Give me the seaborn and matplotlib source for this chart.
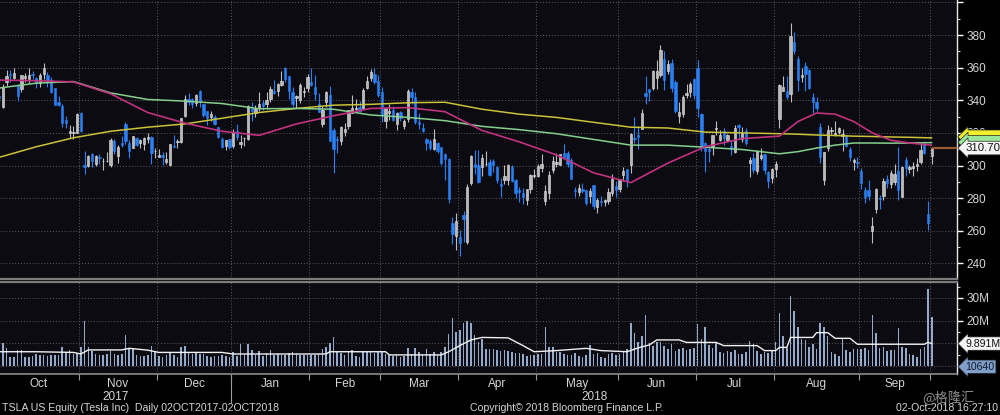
import numpy as np
import pandas as pd
import matplotlib
matplotlib.use("Agg")
import matplotlib.pyplot as plt
import matplotlib.ticker as mticker
import matplotlib.transforms as mtrans
import seaborn as sns

# ---------------- data ----------------
holidays = ["2017-11-23", "2017-12-25", "2018-01-01", "2018-01-15", "2018-02-19",
            "2018-03-30", "2018-05-28", "2018-07-04", "2018-09-03"]

opens = [
    342.5, 335.9, 351.3, 356.0, 353.8, 348.7, 346.8, 353.9, 352.9, 356.0, 353.8, 350.9, 355.9, 355.6, 352.7, 347.3, 338.8, 336.7, 327.8, 319.8, 320.0, 320.2,
    332.3, 300.1, 299.5, 307.0, 301.0, 305.5, 302.5, 302.5, 300.1, 315.0, 306.0, 314.0, 325.7, 313.8, 310.9, 316.8, 313.8, 313.3, 316.4, 317.3, 308.6,
    305.4, 306.5, 302.0, 300.1, 312.0, 314.6, 314.6, 330.5, 340.9, 341.0, 338.3, 345.5, 337.9, 333.3, 329.6, 329.5, 323.8, 316.0, 311.8, 316.2,
    312.0, 321.0, 312.9, 316.6, 316.0, 335.2, 332.2, 335.2, 338.6, 337.9, 340.5, 345.7, 345.6, 349.4, 360.0, 354.6, 345.0, 341.5, 339.9, 345.1, 347.5,
    351.0, 348.4, 338.0, 325.2, 339.0, 343.3, 322.0, 316.1, 315.0, 320.8, 324.5, 332.5, 334.5, 336.0, 335.5, 347.8, 353.5, 356.3, 352.0,
    345.0, 327.0, 332.4, 333.8, 325.4, 332.9, 324.1, 328.6, 344.9, 342.1, 326.4, 322.8, 316.5, 314.9, 310.3, 313.9, 311.3, 307.3, 304.0, 264.6, 256.5,
    256.3, 269.8, 252.8, 289.3, 301.0, 300.4, 299.0, 300.7, 302.3, 303.0, 299.0, 288.9, 291.1, 291.1, 299.0, 291.3, 285.0, 283.0, 278.8, 285.4, 293.6,
    293.5, 298.6, 278.0, 283.0, 297.5, 300.8, 300.4, 307.5, 307.7, 303.3, 285.0, 283.8, 285.9, 284.7, 281.3, 287.8, 274.7, 278.4, 277.6, 278.5, 283.3, 287.2,
    285.9, 294.3, 297.7, 300.5, 316.2, 319.0, 322.5, 344.7, 346.7, 347.8, 353.8, 355.4, 365.2, 358.0, 362.8, 351.3, 330.2, 331.5, 343.0, 345.0, 353.0,
    360.1, 331.8, 313.8, 310.2, 311.3, 322.5, 315.9, 321.4, 315.6, 311.7, 308.0, 325.0, 316.3, 321.0, 301.8, 304.4, 296.7, 304.9, 307.0, 295.9, 292.2,
    298.0, 328.4, 345.5, 345.5, 343.8, 375.9, 365.6, 354.0, 361.1, 358.5, 341.9, 339.1, 323.8, 291.0, 310.6, 320.9, 319.1, 320.7, 318.0, 318.4, 310.3, 302.3, 302.0,
    296.9, 285.1, 284.8, 260.1, 273.3, 279.5, 281.4, 291.5, 288.7, 290.0, 296.7, 280.5, 303.6, 297.7, 298.5, 300.0, 301.9, 312.9, 270.3, 305.8,
]
highs = [
    348.7, 349.8, 358.6, 358.4, 360.0, 349.7, 355.6, 357.0, 359.8, 358.0, 354.5, 357.0, 363.0, 357.1, 354.5, 347.5, 342.8, 337.5, 330.2, 324.6, 324.0, 331.9,
    332.6, 308.7, 306.3, 307.5, 306.5, 306.9, 304.5, 308.4, 316.8, 316.4, 312.5, 318.1, 326.7, 315.5, 318.2, 317.4, 316.4, 317.3, 320.0, 318.0, 310.7,
    310.3, 308.3, 308.0, 313.4, 318.6, 316.0, 329.0, 343.0, 344.2, 341.7, 343.8, 346.2, 338.0, 333.3, 333.7, 330.9, 323.9, 317.7, 315.8, 316.4,
    322.1, 325.3, 318.6, 317.2, 337.0, 338.8, 337.0, 344.8, 340.0, 345.0, 349.0, 352.3, 350.6, 357.8, 360.5, 355.0, 348.0, 343.0, 350.8, 348.3, 356.2,
    359.7, 355.2, 344.5, 336.2, 346.0, 348.6, 323.0, 318.1, 324.2, 326.2, 334.1, 343.1, 340.8, 339.7, 347.4, 355.0, 359.0, 360.0, 355.2,
    348.0, 335.2, 337.8, 336.4, 333.0, 333.7, 328.5, 347.2, 347.7, 345.2, 332.3, 325.8, 316.9, 316.3, 322.4, 314.4, 311.6, 307.6, 304.3, 268.6, 271.0,
    260.3, 271.9, 288.4, 306.3, 309.3, 309.5, 307.1, 309.0, 304.0, 304.0, 299.7, 292.2, 300.2, 301.0, 300.2, 291.5, 287.0, 286.0, 285.0, 294.5, 298.0,
    300.8, 306.9, 288.0, 296.9, 306.0, 307.8, 307.0, 313.0, 308.9, 304.9, 287.0, 288.8, 289.0, 285.0, 286.0, 288.0, 279.8, 281.1, 279.6, 286.5, 295.0, 290.4,
    292.0, 299.0, 297.8, 320.0, 330.0, 324.5, 334.7, 355.0, 347.2, 358.8, 364.7, 373.7, 370.0, 364.4, 365.2, 352.3, 338.7, 343.0, 349.8, 351.5, 353.5,
    364.8, 332.0, 314.4, 312.0, 318.5, 327.0, 321.9, 323.2, 319.6, 315.2, 324.7, 325.5, 323.5, 323.2, 305.5, 307.7, 309.6, 310.7, 307.2, 296.4, 298.3,
    303.0, 350.0, 355.0, 355.0, 387.5, 382.0, 367.0, 360.0, 363.2, 359.2, 344.5, 342.3, 326.0, 308.5, 324.8, 323.8, 327.3, 323.9, 322.4, 318.9, 311.5, 304.6, 305.3,
    298.2, 286.8, 291.2, 268.4, 286.0, 282.0, 292.5, 294.0, 297.3, 300.9, 311.4, 300.0, 305.0, 300.6, 302.0, 304.6, 313.9, 315.0, 278.0, 311.4,
]
lows = [
    338.0, 335.0, 349.0, 351.5, 353.0, 339.5, 345.0, 351.3, 350.9, 353.0, 347.5, 348.0, 353.3, 348.2, 344.3, 337.0, 336.2, 323.6, 323.2, 316.7, 316.0, 320.0,
    320.3, 294.8, 299.0, 299.0, 300.0, 301.0, 297.0, 301.9, 299.1, 306.9, 301.5, 311.3, 313.2, 304.8, 310.7, 311.8, 311.0, 309.5, 313.9, 301.2, 304.5,
    305.0, 300.6, 301.0, 300.0, 311.1, 311.0, 313.8, 330.0, 336.9, 335.0, 336.3, 335.6, 330.0, 325.0, 327.0, 324.8, 316.6, 310.8, 309.5, 310.0,
    311.0, 315.6, 310.8, 312.0, 315.5, 327.4, 330.0, 333.3, 334.0, 334.8, 339.0, 343.7, 342.6, 349.0, 351.0, 341.0, 335.7, 335.0, 338.3, 342.2, 345.2,
    348.6, 340.1, 333.0, 323.5, 335.7, 315.0, 295.7, 307.7, 312.5, 318.0, 322.6, 332.2, 333.0, 333.0, 334.8, 347.1, 352.0, 350.0, 342.2,
    326.7, 323.0, 327.9, 327.6, 321.7, 327.3, 322.4, 326.5, 338.0, 325.3, 322.1, 320.5, 309.6, 309.4, 309.4, 307.5, 300.5, 291.4, 277.2, 252.1, 248.2,
    244.6, 253.0, 252.0, 288.2, 295.0, 289.2, 293.7, 300.0, 293.7, 296.0, 289.0, 280.5, 288.5, 288.2, 289.8, 279.8, 277.4, 276.5, 276.0, 283.3, 292.2,
    293.1, 296.0, 275.6, 279.5, 295.2, 299.0, 300.1, 304.1, 299.1, 291.6, 280.5, 281.6, 283.1, 275.6, 276.9, 273.4, 271.0, 274.9, 275.4, 276.2, 281.6, 280.8,
    283.8, 290.6, 286.7, 295.7, 313.6, 310.2, 322.2, 338.0, 339.8, 346.6, 346.7, 354.5, 346.3, 356.3, 345.3, 332.0, 326.2, 330.0, 341.2, 342.0, 340.5,
    329.9, 309.0, 296.2, 302.0, 306.5, 318.5, 315.0, 312.5, 314.3, 306.3, 307.8, 316.3, 314.3, 312.5, 292.9, 295.7, 295.0, 303.5, 295.0, 286.0, 289.1,
    293.0, 323.2, 345.4, 341.0, 339.2, 368.5, 345.7, 351.2, 346.0, 347.1, 332.5, 333.5, 301.3, 288.2, 309.0, 319.4, 318.1, 319.4, 308.8, 311.3, 302.6, 297.0, 298.6,
    285.3, 277.2, 278.9, 252.3, 271.0, 273.6, 278.6, 286.2, 286.5, 288.1, 279.0, 280.5, 293.6, 295.4, 293.6, 296.5, 301.1, 306.9, 260.6, 301.1,
]
closes = [
    341.5, 348.1, 355.0, 355.3, 356.9, 342.9, 355.6, 354.6, 355.7, 355.6, 350.6, 355.8, 359.7, 351.8, 345.1, 337.0, 337.3, 325.8, 326.2, 320.9, 320.1, 331.5,
    321.1, 299.3, 306.1, 302.8, 306.1, 304.4, 303.0, 303.0, 315.4, 308.7, 311.3, 312.5, 315.1, 308.7, 317.8, 312.6, 315.6, 316.8, 317.6, 307.5, 308.9,
    306.5, 305.2, 303.7, 313.3, 311.2, 315.1, 328.9, 341.0, 339.0, 337.9, 343.5, 338.9, 331.1, 329.0, 331.7, 325.2, 317.3, 311.6, 315.4, 311.4,
    320.5, 317.3, 314.6, 316.6, 336.4, 333.7, 334.8, 338.0, 336.2, 340.1, 347.2, 344.6, 350.0, 351.6, 352.8, 345.9, 337.6, 342.9, 349.5, 345.8, 354.3,
    349.3, 343.8, 333.1, 334.0, 345.0, 315.2, 310.4, 315.7, 323.7, 322.3, 334.1, 335.5, 334.8, 333.3, 346.2, 352.1, 357.4, 351.0, 343.1,
    330.9, 335.1, 333.4, 328.2, 332.3, 329.1, 327.2, 345.5, 341.8, 326.6, 325.6, 321.4, 313.6, 310.6, 316.5, 309.1, 301.5, 304.2, 279.2, 257.8, 266.1,
    252.5, 267.5, 286.9, 305.7, 299.3, 289.7, 304.7, 300.9, 294.1, 300.3, 291.2, 287.7, 293.4, 300.1, 290.2, 283.4, 283.5, 280.7, 285.5, 294.1, 293.9,
    299.9, 301.2, 284.5, 294.1, 302.8, 302.0, 306.9, 305.0, 301.1, 292.0, 284.2, 286.5, 284.5, 276.8, 284.5, 275.0, 279.1, 277.9, 278.9, 283.8, 291.7, 284.7,
    291.8, 296.7, 291.1, 319.5, 316.1, 317.7, 332.1, 342.8, 344.8, 357.7, 358.2, 370.8, 352.6, 362.2, 347.5, 333.6, 333.0, 342.0, 344.5, 349.9, 343.0,
    335.1, 310.9, 309.2, 308.9, 318.5, 322.5, 319.0, 316.7, 318.9, 310.1, 322.7, 323.9, 320.2, 313.6, 303.2, 297.4, 308.7, 306.7, 297.2, 290.2, 298.1,
    300.8, 349.5, 348.2, 342.0, 379.6, 370.3, 352.5, 355.5, 356.4, 347.6, 338.7, 335.5, 305.5, 308.4, 321.9, 321.6, 320.1, 322.8, 319.3, 311.9, 305.0, 303.2, 301.7,
    289.0, 280.7, 281.0, 263.2, 285.5, 279.4, 290.5, 289.5, 295.2, 294.8, 285.0, 299.0, 298.3, 299.1, 299.7, 301.0, 309.6, 307.5, 264.8, 310.7,
]
volumes_m = [
    7.5, 10.0, 7.8, 4.1, 4.1, 7.0, 7.0, 3.8, 3.8, 4.5, 5.3, 4.9, 4.9, 4.5, 4.9, 4.7, 4.9, 8.5, 6.3, 7.0, 5.3, 5.8,
    8.5, 20.0, 8.5, 6.5, 5.5, 5.0, 4.8, 5.2, 6.6, 5.5, 5.0, 5.5, 13.5, 7.8, 7.8, 4.8, 4.5, 4.3, 4.9, 8.8, 6.5,
    4.5, 4.2, 4.8, 5.6, 4.9, 4.0, 8.5, 8.8, 6.0, 5.5, 6.3, 5.4, 5.5, 4.6, 4.0, 4.3, 4.5, 5.0, 4.3, 3.8,
    6.1, 4.6, 9.7, 4.9, 9.7, 7.0, 5.0, 6.5, 4.5, 5.7, 6.9, 4.9, 5.5, 5.0, 5.0, 5.9, 6.3, 5.2, 4.9, 4.8, 4.9,
    5.0, 4.8, 5.3, 7.6, 8.5, 10.3, 12.6, 6.4, 5.6, 4.9, 6.7, 7.0, 4.4, 3.8, 6.2, 6.0, 6.2, 5.6, 6.1,
    6.5, 5.3, 5.0, 4.5, 5.0, 3.8, 4.4, 7.8, 5.5, 7.8, 6.0, 5.4, 7.4, 5.5, 6.0, 5.0, 6.0, 8.5, 14.0, 21.0, 15.0,
    16.0, 19.0, 20.0, 19.0, 13.5, 10.7, 11.8, 7.5, 7.4, 7.6, 7.0, 6.8, 6.9, 6.5, 6.3, 5.8, 5.9, 5.2, 4.3, 5.0, 4.8,
    5.2, 5.5, 17.4, 8.5, 8.5, 6.3, 6.3, 5.3, 4.9, 4.9, 5.6, 4.5, 4.2, 4.9, 9.3, 5.3, 5.9, 4.0, 3.6, 5.5, 5.8, 4.8,
    5.5, 6.0, 7.3, 18.8, 14.4, 10.7, 13.2, 22.5, 10.0, 9.0, 10.5, 10.6, 8.7, 7.5, 9.5, 6.8, 7.5, 8.0, 7.0, 7.5, 8.0,
    18.5, 11.8, 17.4, 9.3, 8.0, 10.0, 6.0, 5.8, 6.6, 6.2, 7.0, 5.2, 5.5, 6.0, 11.0, 9.7, 6.5, 5.3, 6.0, 5.6, 6.8,
    10.7, 23.2, 13.2, 8.0, 30.9, 24.4, 17.4, 11.8, 11.5, 8.5, 9.5, 7.5, 18.8, 17.4, 13.2, 6.3, 5.5, 4.4, 12.2, 7.0, 6.0, 7.5, 7.7,
    7.5, 7.8, 7.0, 22.5, 14.4, 8.0, 8.5, 6.5, 7.0, 7.2, 16.6, 8.5, 7.8, 5.5, 4.7, 4.0, 7.4, 8.5, 33.8, 21.8,
]

ma_pos = [0, 10, 20, 30, 40, 50, 60, 70, 80, 90, 100, 110, 120, 130, 140, 150, 160, 170, 180, 190,
          200, 210, 215, 220, 225, 230, 235, 240, 245, 250, 251]
ma50 = [352.4, 352.0, 351.3, 344.0, 332.5, 326.0, 321.0, 318.5, 325.5, 330.5, 335.0, 335.5, 333.0, 321.5,
        314.5, 306.5, 295.5, 289.5, 301.5, 311.5, 316.5, 318.0, 327.0, 332.2, 331.5, 327.0, 320.0, 315.5,
        313.8, 312.7, 312.5]
ma100 = [347.5, 350.5, 351.5, 344.5, 340.5, 339.5, 338.0, 334.8, 335.0, 334.5, 331.0, 329.5, 327.5, 324.0,
         322.0, 319.5, 316.0, 312.5, 312.5, 311.2, 309.8, 307.2, 308.5, 310.7, 312.5, 313.8, 313.8, 313.7,
         313.8, 314.0, 314.0]
ma200 = [305.0, 311.5, 317.0, 321.0, 323.5, 325.5, 329.0, 332.5, 335.0, 337.0, 337.5, 338.5, 338.8, 334.5,
         331.5, 329.5, 326.5, 323.5, 323.0, 320.5, 320.0, 319.5, 319.2, 318.7, 318.4, 318.0, 317.8, 317.5,
         317.3, 317.0, 317.0]

vma_pos = [0, 10, 20, 22, 24, 33, 35, 40, 43, 60, 63, 88, 89, 104, 105, 119, 121, 124, 127, 130, 137, 141,
           144, 150, 158, 162, 169, 172, 175, 177, 183, 185, 193, 195, 204, 206, 209, 210, 212, 213, 219,
           220, 223, 225, 229, 231, 249, 250, 251]
vma = [6.3, 6.3, 6.0, 5.3, 7.1, 7.1, 7.8, 7.0, 6.0, 6.0, 5.3, 5.3, 6.3, 6.3, 4.9, 4.9, 6.3, 9.0, 11.5, 12.6,
       12.4, 9.0, 6.3, 6.8, 7.8, 6.8, 6.3, 8.0, 9.3, 11.5, 11.5, 10.4, 10.4, 9.0, 9.0, 6.8, 6.8, 8.2, 8.2,
       12.6, 12.6, 14.7, 14.7, 12.2, 12.2, 9.6, 9.6, 10.4, 9.9]

vma_last = "9.891M"
vol_today = "10640"

# ---------------- styling ----------------
sns.set_theme(style="dark")
plt.rcParams["font.family"] = ["Liberation Sans", "Noto Sans CJK SC", "DejaVu Sans"]

BG = "#0b0b11"
TXT = "#d6d6d6"
BLUE = "#2a80f4"
UPF = "#b9b9b9"
UPE = "#e6e6e6"
GRID = "#5e5e5e"

dates = pd.bdate_range("2017-10-02", "2018-10-01")
dates = dates[~dates.isin(pd.to_datetime(holidays))]
n = len(closes)

df = pd.DataFrame({"pos": np.arange(n), "open": opens, "high": highs, "low": lows,
                   "close": closes, "vol": volumes_m})
df["up"] = df["close"] >= df["open"]
df["blo"] = np.minimum(df["open"], df["close"])
df["bh"] = np.maximum(np.abs(df["close"] - df["open"]), 0.5)

fig = plt.figure(figsize=(10, 4.15), dpi=100, facecolor="#000000")
ax = fig.add_axes([0.0, 0.3277, 0.957, 0.6723])
axv = fig.add_axes([0.0, 0.0988, 0.957, 0.2217], sharex=ax)
for a in (ax, axv):
    a.set_facecolor(BG)

XL = (0.24, 257.8)

# month boundaries / labels
months = dates.to_period("M")
bounds = [i - 0.5 for i in range(1, n) if months[i] != months[i - 1]]
edges = [-0.5] + bounds + [n - 0.5]
mid_pos, mid_lab = [], []
for k in range(len(edges) - 1):
    if edges[k + 1] - edges[k] >= 5:
        mid_pos.append((edges[k] + edges[k + 1]) / 2)
        mid_lab.append(dates[int(edges[k] + 0.5)].strftime("%b"))
year_split = [b for b in bounds if dates[int(b + 0.5)].month == 1][0]

# ---------------- price panel ----------------
up = df[df["up"]]
dn = df[~df["up"]]
ax.vlines(up["pos"], up["low"], up["high"], color="#bdbdbd", lw=0.8, zorder=3)
ax.vlines(dn["pos"], dn["low"], dn["high"], color=BLUE, lw=0.8, zorder=3)
ax.bar(up["pos"], up["bh"], bottom=up["blo"], width=0.62, color=UPF, edgecolor=UPE, linewidth=0.4, zorder=4)
ax.bar(dn["pos"], dn["bh"], bottom=dn["blo"], width=0.62, color=BLUE, edgecolor=BLUE, linewidth=0.4, zorder=4)

sns.lineplot(x=ma_pos, y=ma200, ax=ax, color="#c9c23a", lw=1.1, zorder=5)
sns.lineplot(x=ma_pos, y=ma100, ax=ax, color="#86d08e", lw=1.1, zorder=5)
sns.lineplot(x=ma_pos, y=ma50, ax=ax, color="#c2327f", lw=1.2, zorder=5)

ax.hlines(closes[-1], df["pos"].iloc[-1], XL[1], color="#9a5a2c", lw=1.6, zorder=6)

ax.set_xlim(*XL)
ax.set_ylim(230.4, 401.5)
ax.yaxis.tick_right()
ax.yaxis.set_major_locator(mticker.FixedLocator(list(range(240, 401, 20))))
ax.yaxis.set_major_formatter(mticker.FuncFormatter(lambda v, p: "" if v > 390 else f"{v:.0f}"))
ax.yaxis.set_minor_locator(mticker.FixedLocator(list(range(230, 401, 10))))
ax.tick_params(axis="y", which="major", direction="out", length=4, width=1, color="white",
               labelcolor=TXT, labelsize=8.5, pad=3, right=True, left=False)
ax.tick_params(axis="y", which="minor", direction="out", length=2, width=0.8, color="#cfcfcf", right=True, left=False)
ax.tick_params(axis="x", which="both", length=0, labelbottom=False)
ax.set_xlabel("")
ax.set_ylabel("")
ax.grid(True, which="major", axis="both", ls=(0, (1, 2)), color=GRID, lw=0.7)
ax.set_axisbelow(True)
for s in ("left", "top"):
    ax.spines[s].set_visible(False)
ax.spines["right"].set_color("#e8e8e8")
ax.spines["right"].set_linewidth(1.0)
ax.spines["bottom"].set_color("#7c7c7c")
ax.spines["bottom"].set_linewidth(1.6)
if ax.get_legend():
    ax.get_legend().remove()

tp = mtrans.blended_transform_factory(ax.transAxes, ax.transData)


def tag(a, tr, y, s, fc, tc, z, size=8.2):
    a.text(1.0085, y, s, transform=tr, ha="left", va="center", fontsize=size, color=tc,
           zorder=z, clip_on=False,
           bbox=dict(boxstyle="larrow,pad=0.16", fc=fc, ec="#202020", lw=0.5))


tag(ax, tp, ma200[-1] + 0.6, "            ", "#f2ee2a", "#f2ee2a", 20)
tag(ax, tp, ma100[-1] + 0.2, "            ", "#9ae79b", "#9ae79b", 21)
tag(ax, tp, closes[-1], f"{closes[-1]:.2f}", "#f4f4f4", "#111111", 22)

# ---------------- volume panel ----------------
axv.bar(df["pos"], df["vol"], width=0.42, color="#93aacb", edgecolor="none", linewidth=0, zorder=3)
sns.lineplot(x=vma_pos, y=vma, ax=axv, color="#f0f0f0", lw=1.0, zorder=4)
axv.set_ylim(-3.5, 37.0)
axv.yaxis.tick_right()
axv.yaxis.set_major_locator(mticker.FixedLocator([0, 10, 20, 30]))
axv.yaxis.set_major_formatter(mticker.FixedFormatter(["", "", "20M", "30M"]))
axv.yaxis.set_minor_locator(mticker.FixedLocator([5, 15, 25, 35]))
axv.tick_params(axis="y", which="major", direction="out", length=4, width=1, color="white",
                labelcolor=TXT, labelsize=8.5, pad=3, right=True, left=False)
axv.tick_params(axis="y", which="minor", direction="out", length=2, width=0.8, color="#cfcfcf", right=True, left=False)
axv.xaxis.set_major_locator(mticker.FixedLocator(bounds))
axv.xaxis.set_major_formatter(mticker.NullFormatter())
axv.xaxis.set_minor_locator(mticker.FixedLocator(mid_pos))
axv.xaxis.set_minor_formatter(mticker.FixedFormatter(mid_lab))
axv.tick_params(axis="x", which="major", direction="out", length=4, width=0.8, color="#9a9a9a", bottom=True)
axv.tick_params(axis="x", which="minor", length=0, labelcolor=TXT, labelsize=8.5, pad=3, bottom=True, labelbottom=True)
axv.set_xlabel("")
axv.set_ylabel("")
axv.grid(True, which="major", axis="both", ls=(0, (1, 2)), color=GRID, lw=0.7)
axv.set_axisbelow(True)
axv.spines["left"].set_visible(False)
axv.spines["right"].set_color("#e8e8e8")
axv.spines["right"].set_linewidth(1.0)
axv.spines["top"].set_color("#7c7c7c")
axv.spines["top"].set_linewidth(1.6)
axv.spines["bottom"].set_color("#8a8a8a")
axv.spines["bottom"].set_linewidth(1.2)
if axv.get_legend():
    axv.get_legend().remove()
axv.set_xlim(*XL)

tv = mtrans.blended_transform_factory(axv.transAxes, axv.transData)
tag(axv, tv, vma[-1], vma_last, "#f4f4f4", "#111111", 22, size=7.6)
tag(axv, tv, -0.3, vol_today, "#7f9fca", "#14182a", 22, size=7.6)

# year labels & separator
tx = mtrans.blended_transform_factory(axv.transData, axv.transAxes)
axv.text((XL[0] + year_split) / 2, -0.255, str(dates[0].year), transform=tx, ha="center", va="center",
         fontsize=8.5, color=TXT)
axv.text((year_split + XL[1]) / 2, -0.255, str(dates[-1].year), transform=tx, ha="center", va="center",
         fontsize=8.5, color=TXT)
axv.plot([year_split, year_split], [0, -0.3], transform=tx, color="#9a9a9a", lw=0.8, clip_on=False)

# footer
fig.text(0.002, 0.017, "TSLA US Equity (Tesla Inc)  Daily 02OCT2017-02OCT2018", fontsize=7.6,
         color=TXT, ha="left", va="center")
fig.text(0.567, 0.017, "Copyright\u00a9 2018 Bloomberg Finance L.P.", fontsize=7.6, color=TXT,
         ha="center", va="center")
fig.text(0.998, 0.017, "02-Oct-2018 16:27:10", fontsize=7.6, color=TXT, ha="right", va="center")
fig.text(0.948, 0.042, "@格隆汇", fontsize=9.5, color="#a8a8a8", alpha=0.85, ha="center", va="center",
         family=["Noto Sans CJK SC", "DejaVu Sans"])

fig.savefig("out.png", dpi=100, facecolor=fig.get_facecolor())
